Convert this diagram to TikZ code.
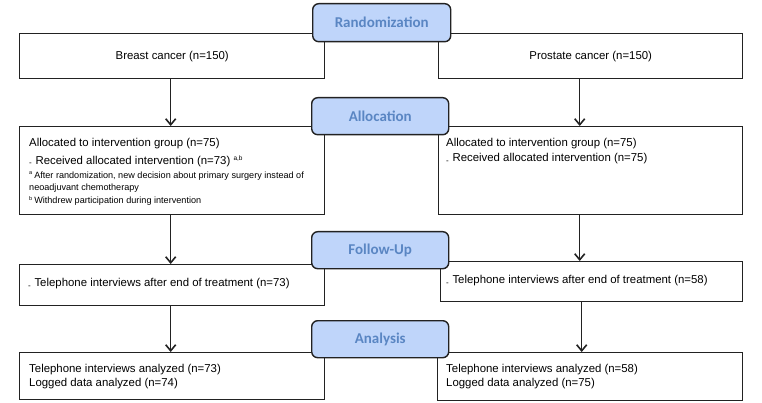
\documentclass[tikz,border=0pt]{standalone}
\usepackage{fontspec}
\setmainfont{Liberation Sans}
\newfontfamily\labfont{Carlito}
\usetikzlibrary{arrows.meta,calc}
\definecolor{labfill}{HTML}{BFD5FA}
\definecolor{labtext}{HTML}{5A86C3}
\definecolor{edgec}{HTML}{222222}
\begin{document}
\begin{tikzpicture}[x=1pt,y=-1pt,
  box/.style={draw=edgec,line width=1.4pt,inner sep=0pt,anchor=north west,fill=white},
  stage/.style={draw=edgec,line width=1.4pt,fill=labfill,rounded corners=6pt,inner sep=0pt,
     anchor=north west,minimum width=138pt,minimum height=38pt,text=labtext,
     font=\labfont\bfseries\fontsize{15}{17}\selectfont},
  txt/.style={inner sep=0pt,anchor=west,font=\fontsize{11.4}{13}\selectfont},
  fn/.style={inner sep=0pt,anchor=west,font=\fontsize{9.1}{10}\selectfont},
  arr/.style={draw=edgec,line width=1.3pt,-{Straight Barb[length=6pt,width=10pt,line width=1.6pt]}}]
\useasboundingbox (0,0) rectangle (762,403);
% boxes
\node[box,minimum width=305pt,minimum height=45pt] (b1) at (19,33) {};
\node[box,minimum width=304pt,minimum height=45pt] (b2) at (438,33) {};
\node[box,minimum width=305pt,minimum height=88pt] (a1) at (19,126) {};
\node[box,minimum width=304pt,minimum height=88pt] (a2) at (438,126) {};
\node[box,minimum width=305pt,minimum height=41pt] (f1) at (19,264) {};
\node[box,minimum width=302pt,minimum height=40pt] (f2) at (440,261) {};
\node[box,minimum width=305pt,minimum height=47pt] (n1) at (19,352) {};
\node[box,minimum width=305pt,minimum height=48pt] (n2) at (437,352) {};
% texts
\node[txt,anchor=center] (t1) at (b1.center) {Breast cancer (n=150)};
\node[txt,anchor=center] (t2) at (b2.center) {Prostate cancer (n=150)};
\node[txt] (t3) at (29,144) {Allocated to intervention group (n=75)};
\node[txt] (t4) at (29,161) {\textsubscript{-} Received allocated intervention (n=73) \textsuperscript{\fontsize{6.5}{7}\selectfont a,b}};
\node[fn] (t5) at (29,176) {\textsuperscript{\fontsize{5.5}{6}\selectfont a }After randomization, new decision about primary surgery instead of};
\node[fn] (t6) at (29,188) {neoadjuvant chemotherapy};
\node[fn] (t7) at (29,201) {\textsuperscript{\fontsize{5.5}{6}\selectfont b }Withdrew participation during intervention};
\node[txt] (t8) at (446,144) {Allocated to intervention group (n=75)};
\node[txt] (t9) at (446,159) {\textsubscript{-} Received allocated intervention (n=75)};
\node[txt] (t10) at (28,284) {\textsubscript{-} Telephone interviews after end of treatment (n=73)};
\node[txt] (t11) at (446,281) {\textsubscript{-} Telephone interviews after end of treatment (n=58)};
\node[txt] (t12) at (29,370) {Telephone interviews analyzed (n=73)};
\node[txt] (t13) at (29,384) {Logged data analyzed (n=74)};
\node[txt] (t14) at (446,370) {Telephone interviews analyzed (n=58)};
\node[txt] (t15) at (446,384) {Logged data analyzed (n=75)};
% arrows
\draw[arr] ([xshift=-1.5pt]b1.south) -- ([xshift=-1.5pt]a1.north);
\draw[arr] ([xshift=-1.5pt]a1.south) -- ([xshift=-1.5pt]f1.north);
\draw[arr] ([xshift=-1.5pt]f1.south) -- ([xshift=-1.5pt]n1.north);
\draw[arr] ([xshift=-11pt]b2.south) -- ([xshift=-11pt]a2.north);
\draw[arr] ([xshift=-11pt]a2.south) -- ([xshift=-11pt]a2.south |- f2.north);
\draw[arr] ([xshift=-10pt]f2.south) -- ([xshift=-10pt]f2.south |- n2.north);
% stage labels
\node[stage] (s1) at (312,3) {Randomization};
\node[stage,minimum height=37pt,minimum width=137pt] (s2) at (311,97) {Allocation};
\node[stage,minimum height=37pt,minimum width=137pt] (s3) at (311,231) {Follow-Up};
\node[stage,minimum height=37pt,minimum width=137pt] (s4) at (311,320) {Analysis};
\end{tikzpicture}
\end{document}
